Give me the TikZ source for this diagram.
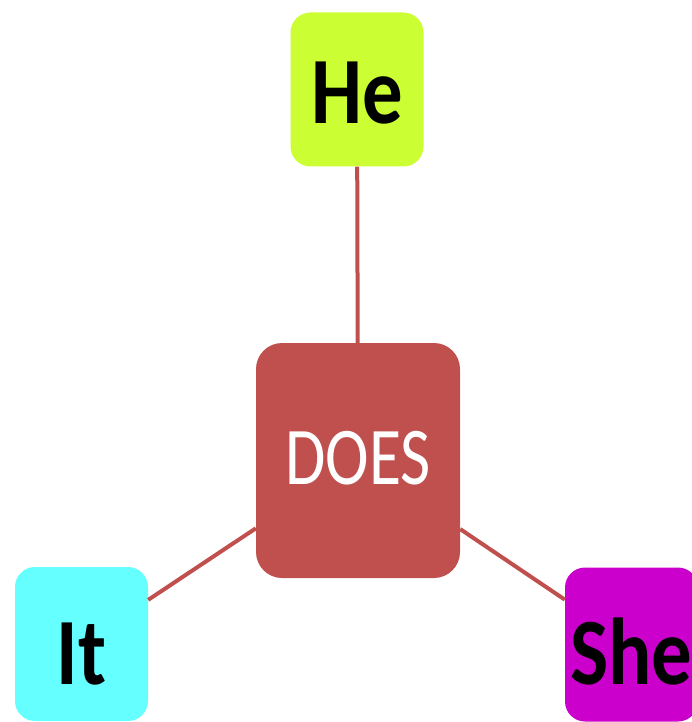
\documentclass[tikz,border=0pt]{standalone}
\usepackage{fontspec}
\setmainfont{Carlito}
\newfontfamily\boxfont{Carlito}[FakeStretch=0.85]
\newfontfamily\verbfont{Carlito}[FakeStretch=0.8]
\definecolor{doesred}{HTML}{C0504D}
\definecolor{helime}{HTML}{CCFF33}
\definecolor{itcyan}{HTML}{66FFFF}
\definecolor{shemagenta}{HTML}{CC00CC}
\begin{document}
\begin{tikzpicture}[x=1pt, y=-1pt]

	\tikzstyle{pronoun_box} = [rectangle, rounded corners=20pt, inner sep=0pt, minimum width=133pt, minimum height=154pt, text height=80pt, text depth=0pt, font=\boxfont\bfseries\fontsize{95}{100}\selectfont, text=black]
	\tikzstyle{verb_box} = [rectangle, rounded corners=26pt, inner sep=0pt, minimum width=204pt, minimum height=235pt, text height=47pt, text depth=0pt, fill=doesred, font=\verbfont\fontsize{82}{90}\selectfont, text=white]
	\tikzstyle{link} = [draw=doesred, line width=4pt]

	\useasboundingbox (0,0) rectangle (691,722);

%------------------------------------------------------------
	\node[verb_box] (does) at (358,460.5) {DOES};

%------------------------------------------------------------

	\node[pronoun_box, fill=helime, text height=69pt] (he) at (357,89.5) {He};
	\node[pronoun_box, fill=itcyan]     (it)  at (81.5,644)  {It};
	\node[pronoun_box, fill=shemagenta] (she) at (631.5,644.5) {She};

%------------------------------------------------------------

	\draw[link] (he) -- (does);
	\draw[link] (it) -- (does);
	\draw[link] (she) -- (does);

\end{tikzpicture}
\end{document}
